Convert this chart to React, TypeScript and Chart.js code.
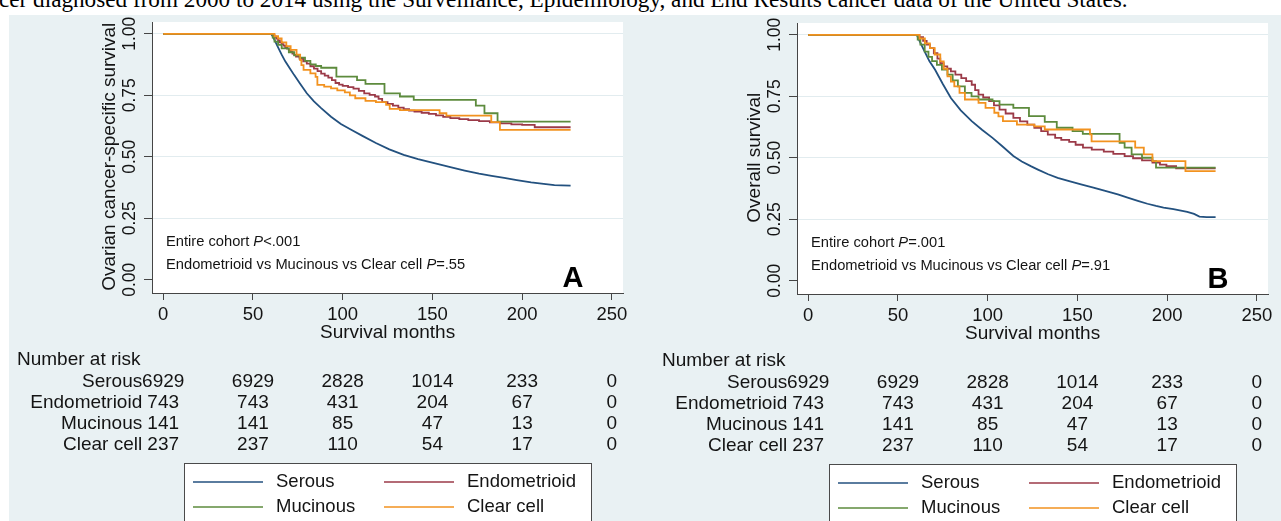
import React, { useEffect, useRef } from 'react';
import { Chart, registerables } from 'chart.js';

Chart.register(...registerables);

// ---------------- data ----------------
const CAPTION =
  'cer diagnosed from 2000 to 2014 using the Surveillance, Epidemiology, and End Results cancer data of the United States.';
const GROUPS = ['Serous', 'Endometrioid', 'Mucinous', 'Clear cell'];
const X_TICKS = [0, 50, 100, 150, 200, 250];
const Y_TICKS = [0, 0.25, 0.5, 0.75, 1];
const Y_TICK_LABELS = ['0.00', '0.25', '0.50', '0.75', '1.00'];
const X_TITLE = 'Survival months';
const RISK_TITLE = 'Number at risk';
const RISK_TIMES = [0, 50, 100, 150, 200, 250];
const RISK_SEROUS = [6929, 6929, 2828, 1014, 233, 0];
const RISK_ENDO = [743, 743, 431, 204, 67, 0];
const RISK_MUC = [141, 141, 85, 47, 13, 0];
const RISK_CLEAR = [237, 237, 110, 54, 17, 0];

// Panel A: ovarian cancer-specific survival (months, survival)
const A_SEROUS = [
  [0, 1], [60, 1], [61, 0.99], [62, 0.975], [63, 0.96], [64, 0.945], [66, 0.915], [68, 0.888],
  [70.5, 0.86], [73, 0.832], [76, 0.8], [80, 0.758], [84, 0.725], [88, 0.698], [93.5, 0.663],
  [99, 0.633], [105, 0.609], [111, 0.585], [118.5, 0.556], [126, 0.53], [134, 0.508], [142, 0.49],
  [151, 0.474], [160, 0.458], [168, 0.444], [176, 0.431], [183, 0.422], [190, 0.414], [197, 0.405],
  [205, 0.396], [212, 0.39], [218, 0.385], [222, 0.384], [227, 0.383],
];
const A_ENDO = [
  [0, 1], [60, 1], [61, 0.995], [62, 0.988], [63, 0.98], [64, 0.973], [65, 0.965], [66, 0.958],
  [67, 0.952], [68, 0.946], [69, 0.94], [70, 0.934], [71, 0.927], [72, 0.92], [73, 0.914], [74, 0.907],
  [76, 0.898], [78, 0.888], [80, 0.879], [82, 0.868], [84, 0.858], [86, 0.848], [88, 0.838], [90, 0.83],
  [92, 0.822], [94, 0.812], [96, 0.8], [98, 0.793], [100, 0.788], [103, 0.783], [106, 0.777],
  [109, 0.768], [112, 0.758], [115, 0.752], [118, 0.745], [120, 0.735], [122, 0.722], [125, 0.715],
  [128, 0.708], [131, 0.7], [134, 0.694], [137, 0.688], [140, 0.684], [144, 0.679], [148, 0.674],
  [152, 0.668], [156, 0.662], [160, 0.657], [165, 0.653], [170, 0.649], [176, 0.645], [182, 0.64],
  [188, 0.636], [194, 0.632], [200, 0.63], [207, 0.62], [227, 0.62],
];
const A_MUC = [
  [0, 1], [60, 1], [61, 0.985], [62, 0.968], [64, 0.955], [66, 0.941], [70, 0.925], [73, 0.912],
  [76, 0.903], [79, 0.89], [82, 0.876], [85, 0.869], [88, 0.862], [96.5, 0.826], [108, 0.812],
  [112.7, 0.796], [123.3, 0.758], [131.9, 0.745], [139.6, 0.731], [174.2, 0.708], [179, 0.677],
  [186.3, 0.643], [227, 0.643],
];
const A_CLEAR = [
  [0, 1], [60, 1], [62, 0.99], [64, 0.981], [66, 0.965], [68.6, 0.95], [71, 0.935], [74.3, 0.915],
  [76.3, 0.893], [77, 0.873], [78.2, 0.853], [82, 0.839], [84.9, 0.825], [85.9, 0.792], [89.7, 0.785],
  [93.5, 0.778], [97, 0.77], [101.2, 0.762], [104, 0.75], [107, 0.738], [112.7, 0.727], [118.5, 0.722],
  [124.2, 0.711], [126.2, 0.695], [131.9, 0.69], [154, 0.677], [157.8, 0.667], [182.8, 0.641],
  [187.6, 0.609], [227, 0.609],
];

// Panel B: overall survival (months, survival)
const B_SEROUS = [
  [0, 1], [60.5, 1], [62, 0.975], [64.9, 0.932], [67.5, 0.893], [70.7, 0.858], [75, 0.8], [79.5, 0.743],
  [85, 0.693], [91.1, 0.649], [97, 0.613], [102.7, 0.581], [108, 0.548], [114.3, 0.507], [119, 0.485],
  [124, 0.466], [128, 0.452], [133.7, 0.433], [139, 0.418], [145.4, 0.405], [152, 0.392], [158.9, 0.379],
  [165, 0.366], [172.5, 0.351], [178, 0.338], [184.1, 0.324], [189, 0.313], [193.8, 0.304], [198, 0.297],
  [203.5, 0.291], [207, 0.286], [211.2, 0.28], [215, 0.272], [218, 0.261], [222, 0.259], [227, 0.259],
];
const B_ENDO = [
  [0, 1], [60, 1], [62, 0.99], [64, 0.975], [66, 0.96], [67.8, 0.946], [70, 0.925], [72, 0.903],
  [73.6, 0.885], [75.5, 0.872], [77.5, 0.862], [79.5, 0.851], [82, 0.838], [85.3, 0.824], [88, 0.812],
  [91.1, 0.797], [93, 0.775], [94.9, 0.757], [97.5, 0.745], [100.8, 0.73], [103.5, 0.713], [106.6, 0.696],
  [110, 0.68], [114.3, 0.662], [118, 0.648], [122.1, 0.635], [126, 0.622], [129.8, 0.608], [133.5, 0.594],
  [137.6, 0.581], [141, 0.573], [145.4, 0.565], [149, 0.553], [153.1, 0.541], [158, 0.533], [164.7, 0.525],
  [170, 0.516], [176.3, 0.507], [181, 0.498], [186, 0.489], [191.8, 0.48], [196, 0.472], [199.6, 0.466],
  [205, 0.457], [227, 0.457],
];
const B_MUC = [
  [0, 1], [60, 1], [61, 0.98], [62.5, 0.96], [64.9, 0.932], [67, 0.91], [69, 0.893], [71.7, 0.878],
  [74.5, 0.858], [77.6, 0.838], [80.5, 0.815], [83.4, 0.79], [87.3, 0.764], [91, 0.75], [94.9, 0.737],
  [102.7, 0.73], [106.6, 0.716], [114.3, 0.703], [123, 0.669], [131.8, 0.646], [138.5, 0.622],
  [147.3, 0.608], [153, 0.597], [173.5, 0.561], [176.3, 0.541], [180.2, 0.514], [186, 0.5],
  [191.8, 0.486], [193.8, 0.46], [227, 0.46],
];
const B_CLEAR = [
  [0, 1], [60, 1], [62, 0.985], [65, 0.965], [67.8, 0.946], [70.5, 0.92], [73.6, 0.892], [75.5, 0.862],
  [77.6, 0.831], [79.5, 0.81], [81.4, 0.79], [84.3, 0.764], [87.3, 0.737], [94.9, 0.723], [98.8, 0.703],
  [103.7, 0.683], [106, 0.668], [108.5, 0.649], [116.3, 0.635], [126, 0.628], [131.8, 0.615], [157, 0.595],
  [157.9, 0.567], [182.2, 0.541], [187, 0.514], [191.8, 0.486], [210.2, 0.446], [227, 0.446],
];

// ---------------- styles ----------------
const FONT = '"Liberation Sans", Arial, Helvetica, sans-serif';
const TEXT = '#141414';
const AXIS = '#454545';
const GRID = '#e2ecef';
const BG = '#e9f1f3';
const COLORS = ['#23517f', '#9b3a48', '#5d8b3d', '#f2921f'];
const SMOOTH = [true, false, false, false];

const PANEL_A = {
  yTitle: 'Ovarian cancer-specific survival',
  letter: 'A',
  notes: [
    [['Entire cohort ', false], ['P', true], ['<.001', false]],
    [['Endometrioid vs Mucinous vs Clear cell ', false], ['P', true], ['=.55', false]],
  ],
  series: [A_SEROUS, A_ENDO, A_MUC, A_CLEAR],
};
const PANEL_B = {
  yTitle: 'Overall survival',
  letter: 'B',
  notes: [
    [['Entire cohort ', false], ['P', true], ['=.001', false]],
    [['Endometrioid vs Mucinous vs Clear cell ', false], ['P', true], ['=.91', false]],
  ],
  series: [B_SEROUS, B_ENDO, B_MUC, B_CLEAR],
};
const RISK_ROWS = [RISK_SEROUS, RISK_ENDO, RISK_MUC, RISK_CLEAR];

// plot region (local canvas coordinates)
const PLOT_LEFT = 152;
const PLOT_TOP = 22;
const PLOT_RIGHT = 623;
const PLOT_BOTTOM = 293;

function rotText(ctx: CanvasRenderingContext2D, s: string, x: number, y: number) {
  ctx.save();
  ctx.translate(x, y);
  ctx.rotate(-Math.PI / 2);
  ctx.textAlign = 'center';
  ctx.textBaseline = 'middle';
  ctx.fillText(s, 0, 0);
  ctx.restore();
}

function richText(ctx: CanvasRenderingContext2D, parts: any[], x: number, y: number, size: number) {
  let cx = x;
  ctx.textAlign = 'left';
  ctx.textBaseline = 'middle';
  for (const [s, it] of parts) {
    ctx.font = `${it ? 'italic ' : ''}${size}px ${FONT}`;
    ctx.fillText(s, cx, y);
    cx += ctx.measureText(s).width;
  }
}

function makePlugin(panel: any) {
  return {
    id: 'kmDecor',
    beforeDraw(chart: any) {
      const { ctx, chartArea: a } = chart;
      ctx.save();
      ctx.fillStyle = '#ffffff';
      ctx.fillRect(a.left, a.top, a.right - a.left, a.bottom - a.top);
      ctx.restore();
    },
    afterDraw(chart: any) {
      const ctx: CanvasRenderingContext2D = chart.ctx;
      const a = chart.chartArea;
      const xs = chart.scales.x;
      const ys = chart.scales.y;
      ctx.save();
      ctx.fillStyle = TEXT;

      // y tick labels (rotated)
      ctx.font = `17.5px ${FONT}`;
      Y_TICKS.forEach((v, i) => rotText(ctx, Y_TICK_LABELS[i], a.left - 22, ys.getPixelForValue(v)));
      // y title
      ctx.font = `19px ${FONT}`;
      rotText(ctx, panel.yTitle, a.left - 42, (ys.getPixelForValue(0) + ys.getPixelForValue(1)) / 2);

      // x tick labels
      ctx.font = `18.5px ${FONT}`;
      ctx.textAlign = 'center';
      ctx.textBaseline = 'middle';
      X_TICKS.forEach((v) => ctx.fillText(String(v), xs.getPixelForValue(v), a.bottom + 22));
      // x title
      ctx.font = `19px ${FONT}`;
      ctx.fillText(X_TITLE, (xs.getPixelForValue(0) + xs.getPixelForValue(250)) / 2, a.bottom + 40);

      // notes
      richText(ctx, panel.notes[0], a.left + 14, a.bottom - 51, 14.7);
      richText(ctx, panel.notes[1], a.left + 14, a.bottom - 28, 14.7);

      // panel letter
      ctx.font = `bold 29px ${FONT}`;
      ctx.textAlign = 'center';
      ctx.textBaseline = 'alphabetic';
      ctx.fillStyle = '#000';
      ctx.fillText(panel.letter, a.left + 421, a.bottom - 6);

      // number at risk table
      ctx.fillStyle = TEXT;
      ctx.font = `19px ${FONT}`;
      ctx.textBaseline = 'middle';
      ctx.textAlign = 'left';
      ctx.fillText(RISK_TITLE, a.left - 135, 360);
      const rowsY = [381.5, 403, 424, 445];
      const labelRight = xs.getPixelForValue(0) - 21;
      RISK_ROWS.forEach((row, r) => {
        ctx.textAlign = 'right';
        ctx.fillText(GROUPS[r], labelRight, rowsY[r]);
        ctx.textAlign = 'center';
        row.forEach((n, i) => ctx.fillText(String(n), xs.getPixelForValue(RISK_TIMES[i]), rowsY[r]));
      });

      // legend
      const bx = a.left + 32;
      const by = 463;
      const bw = 407;
      ctx.fillStyle = '#ffffff';
      ctx.fillRect(bx, by, bw, 80);
      ctx.strokeStyle = '#4a4a4a';
      ctx.lineWidth = 1;
      ctx.strokeRect(bx + 0.5, by + 0.5, bw, 80);
      const cols = [0, 191];
      const legRows = [482, 507];
      ctx.font = `18.5px ${FONT}`;
      ctx.textAlign = 'left';
      ctx.textBaseline = 'middle';
      GROUPS.forEach((g, i) => {
        const cx = bx + cols[i % 2];
        const cy = legRows[Math.floor(i / 2)];
        ctx.strokeStyle = COLORS[i];
        ctx.lineWidth = 1.5;
        ctx.beginPath();
        ctx.moveTo(cx + 9, cy);
        ctx.lineTo(cx + 79, cy);
        ctx.stroke();
        ctx.fillStyle = TEXT;
        ctx.fillText(g, cx + 92, cy);
      });
      ctx.restore();
    },
  };
}

function KMPanel({ panel, left, top, width, height }: any) {
  const ref = useRef<HTMLCanvasElement>(null);
  useEffect(() => {
    const canvas = ref.current as HTMLCanvasElement;
    const datasets = panel.series.map((s: number[][], i: number) => ({
      label: GROUPS[i],
      data: s.map(([x, y]) => ({ x, y })),
      borderColor: COLORS[i],
      backgroundColor: COLORS[i],
      borderWidth: 1.8,
      pointRadius: 0,
      fill: false,
      tension: 0,
      stepped: SMOOTH[i] ? false : true,
      order: 3 - i,
    }));
    const chart = new Chart(canvas, {
      type: 'line',
      data: { datasets },
      options: {
        animation: false,
        responsive: false,
        maintainAspectRatio: false,
        devicePixelRatio: 1,
        events: [],
        layout: {
          autoPadding: false,
          padding: { left: PLOT_LEFT, top: PLOT_TOP, right: width - PLOT_RIGHT, bottom: height - PLOT_BOTTOM },
        },
        plugins: { legend: { display: false }, tooltip: { enabled: false }, title: { display: false } },
        scales: {
          x: {
            type: 'linear',
            min: -6.25,
            max: 256.2,
            afterBuildTicks: (s: any) => {
              s.ticks = X_TICKS.map((v) => ({ value: v }));
            },
            afterFit: (s: any) => {
              s.height = 0;
            },
            ticks: { display: false },
            grid: { drawOnChartArea: false, drawTicks: true, tickLength: 7, tickColor: AXIS, tickWidth: 1 },
            border: { display: true, color: AXIS, width: 1 },
          },
          y: {
            type: 'linear',
            min: -0.054,
            max: 1.048,
            afterBuildTicks: (s: any) => {
              s.ticks = Y_TICKS.map((v) => ({ value: v }));
            },
            afterFit: (s: any) => {
              s.width = 0;
            },
            ticks: { display: false },
            grid: {
              drawOnChartArea: true,
              drawTicks: true,
              tickLength: 8,
              tickColor: AXIS,
              tickWidth: 1,
              lineWidth: 1,
              color: (c: any) => (c.tick && c.tick.value === 0 ? 'rgba(0,0,0,0)' : GRID),
            },
            border: { display: true, color: AXIS, width: 1 },
          },
        },
      },
      plugins: [makePlugin(panel)],
    });
    return () => chart.destroy();
  }, []);
  return (
    <canvas
      ref={ref}
      width={width}
      height={height}
      style={{ position: 'absolute', left, top, width, height }}
    />
  );
}

export default function App() {
  return (
    <div
      style={{
        position: 'absolute',
        left: 0,
        top: 0,
        width: 1281,
        height: 521,
        overflow: 'hidden',
        background: '#ffffff',
      }}
    >
      <div style={{ position: 'absolute', left: 9, top: 15, width: 1272, height: 506, background: BG }} />
      <div
        style={{
          position: 'absolute',
          left: -1,
          top: -12,
          font: '23.2px "Liberation Serif", "Times New Roman", serif',
          lineHeight: '23px',
          whiteSpace: 'nowrap',
          color: '#000',
        }}
      >
        {CAPTION}
      </div>
      <KMPanel panel={PANEL_A} left={0} top={0} width={640} height={521} />
      <KMPanel panel={PANEL_B} left={645} top={1} width={636} height={520} />
    </div>
  );
}
